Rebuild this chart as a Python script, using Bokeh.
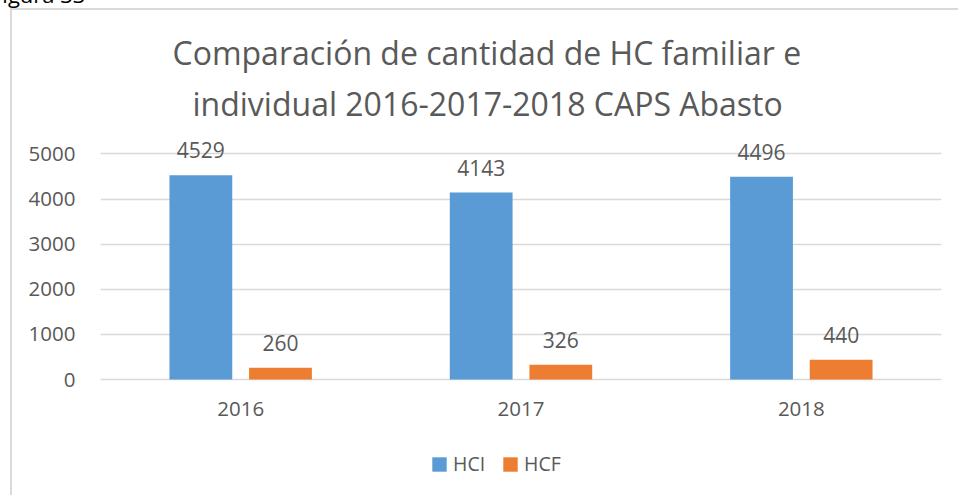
from bokeh.plotting import figure
from bokeh.models import (ColumnDataSource, FactorRange, Range1d, FixedTicker,
                          Legend, LegendItem, Title, Div)
from bokeh.layouts import column
from bokeh.transform import dodge
from bokeh.embed import file_html
from bokeh.resources import INLINE
from bokeh.core.properties import value

# ---- data ----
years = ["2016", "2017", "2018"]
hci = [4529, 4143, 4496]
hcf = [260, 326, 440]
series_names = ["HCI", "HCF"]
y_ticks = [0, 1000, 2000, 3000, 4000, 5000]
title_lines = ["Comparación de cantidad de HC familiar e",
               "individual 2016-2017-2018 CAPS Abasto"]
caption = "Figura 33"

FONT = "Open Sans"
TXT = "#595959"
GRID = "#D9D9D9"
BLUE = "#5B9BD5"
ORANGE = "#ED7D31"

source = ColumnDataSource(dict(
    years=years, hci=hci, hcf=hcf,
    hci_lbl=[str(v) for v in hci], hcf_lbl=[str(v) for v in hcf],
))

p = figure(width=948, height=487, x_range=FactorRange(*years, range_padding=0),
           y_range=Range1d(-2571, 5519), output_backend="svg", toolbar_location=None,
           min_border_left=88, min_border_right=19, min_border_top=120,
           min_border_bottom=2,
           styles={"margin-left": "10px", "margin-top": "8px",
                   "border-left": "2px solid #D9D9D9",
                   "border-top": "2px solid #D9D9D9"})
p.outline_line_color = None
p.background_fill_color = "white"
p.border_fill_color = "white"

off = 0.142
bw = 0.224
r1 = p.vbar(x=dodge("years", -off, range=p.x_range), top="hci", width=bw,
            source=source, fill_color=BLUE, line_color=None)
r2 = p.vbar(x=dodge("years", off, range=p.x_range), top="hcf", width=bw,
            source=source, fill_color=ORANGE, line_color=None)

for col, o in (("hci_lbl", -off), ("hcf_lbl", off)):
    p.text(x=dodge("years", o, range=p.x_range), y=col.split("_")[0], text=col,
           source=source, text_align="center", text_baseline="alphabetic",
           y_offset=-25, text_font=value(FONT), text_font_size="21px",
           text_color=TXT)

# axes
p.yaxis.ticker = FixedTicker(ticks=y_ticks)
p.yaxis.axis_line_color = None
p.yaxis.major_tick_line_color = None
p.yaxis.minor_tick_line_color = None
p.yaxis.major_tick_out = 0
p.yaxis.major_label_standoff = 25
p.yaxis.major_label_text_font = FONT
p.yaxis.major_label_text_font_size = "20.5px"
p.yaxis.major_label_text_color = TXT

p.xaxis.fixed_location = 0
p.xaxis.axis_line_color = None
p.xaxis.major_tick_line_color = None
p.xaxis.major_tick_out = 0
p.xaxis.major_label_standoff = 22
p.xaxis.major_label_text_font = FONT
p.xaxis.major_label_text_font_size = "20.5px"
p.xaxis.major_label_text_color = TXT

p.xgrid.grid_line_color = None
p.ygrid.ticker = FixedTicker(ticks=y_ticks)
p.ygrid.grid_line_color = GRID
p.ygrid.grid_line_width = 1.5

# title: two lines, centred over the whole chart area
title_offsets = [72, 92]
title_standoffs = [0, 12]
for line, o, s in zip(reversed(title_lines), reversed(title_offsets),
                      reversed(title_standoffs)):
    p.add_layout(Title(text=line, align="left", offset=o, standoff=s,
                       text_font=FONT, text_font_size="32px",
                       text_font_style="normal", text_color=TXT), "above")

legend = Legend(items=[LegendItem(label=series_names[0], renderers=[r1]),
                       LegendItem(label=series_names[1], renderers=[r2])],
                location=(330, 18), orientation="horizontal",
                border_line_color=None, background_fill_alpha=0,
                padding=0, margin=0, spacing=16, label_standoff=5,
                glyph_width=18, glyph_height=18,
                label_text_font=FONT, label_text_font_size="19.5px",
                label_text_color=TXT)
p.add_layout(legend)

# document caption, cut off by the top edge of the page as in the reference
cap = Div(text=caption, width=200, height=30,
          styles={"position": "absolute", "left": "-9px", "top": "-21px",
                  "font-family": "Open Sans", "font-size": "22px",
                  "color": "#000000", "white-space": "nowrap",
                  "line-height": "normal", "margin": "0", "padding": "0"})

open("out.html", "w").write(file_html(column(cap, p), INLINE))
